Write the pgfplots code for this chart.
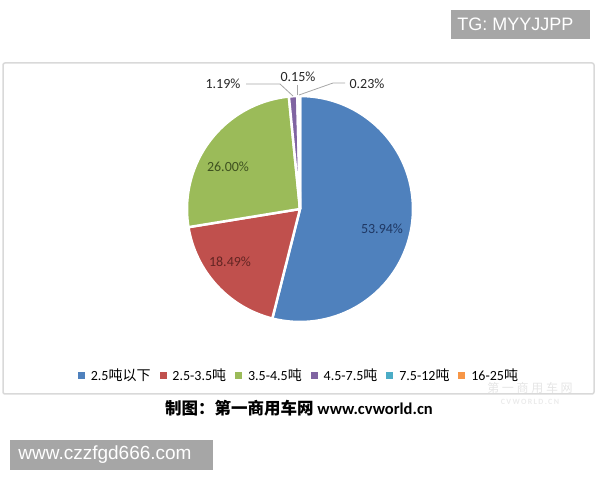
\documentclass[border=0pt]{standalone}
\usepackage{pgfplots}
\pgfplotsset{compat=1.18}
\usepackage{pgfplotstable}
\usepackage{fontspec}
\setmainfont{Carlito}
\newfontfamily\cjk{Noto Sans CJK SC}
\newfontfamily\arial{Liberation Sans}
\definecolor{pBlue}{HTML}{4F81BD}
\definecolor{pRed}{HTML}{C0504D}
\definecolor{pGreen}{HTML}{9BBB59}
\definecolor{pPurple}{HTML}{8064A2}
\definecolor{pCyan}{HTML}{4BACC6}
\definecolor{pOrange}{HTML}{F79646}
\definecolor{tBlue}{HTML}{1F3864}
\definecolor{tRed}{HTML}{632523}
\definecolor{tGreen}{HTML}{3F5220}
\definecolor{lead}{HTML}{A6A6A6}
\definecolor{wm}{HTML}{A6A6A6}
\pgfplotstableread{
share
53.94
18.49
26.00
1.19
0.15
0.23
}\piedata
\pgfplotstablegetelem{0}{share}\of\piedata\let\vA\pgfplotsretval
\pgfplotstablegetelem{1}{share}\of\piedata\let\vB\pgfplotsretval
\pgfplotstablegetelem{2}{share}\of\piedata\let\vC\pgfplotsretval
\pgfplotstablegetelem{3}{share}\of\piedata\let\vD\pgfplotsretval
\pgfplotstablegetelem{4}{share}\of\piedata\let\vE\pgfplotsretval
\pgfplotstablegetelem{5}{share}\of\piedata\let\vF\pgfplotsretval
\pgfmathsetmacro\eA{3.6*\vA}
\pgfmathsetmacro\eB{\eA+3.6*\vB}
\pgfmathsetmacro\eC{\eB+3.6*\vC}
\pgfmathsetmacro\eD{\eC+3.6*\vD}
\pgfmathsetmacro\eE{\eD+3.6*\vE}
\pgfmathsetmacro\eF{\eE+3.6*\vF}
\newcommand\pieslice[3]{\fill[#1, draw=white, line width=2.5bp, line join=round] (axis cs:300,271) -- ++({90-#2}:113bp) arc[start angle={90-#2}, end angle={90-#3}, radius=113bp] -- cycle;}
\pgfplotsset{sqlegend/.style={legend image code/.code={\fill[##1] (0bp,-3bp) rectangle (6bp,3bp);}}}
\begin{document}
\begin{tikzpicture}
\path[use as bounding box] (0,0) rectangle (600bp,480bp);
\begin{axis}[x=1bp, y=1bp, xmin=0, xmax=600, ymin=0, ymax=480,
  hide axis, clip=false, anchor=origin, at={(0,0)},
  sqlegend,
  legend columns=-1,
  legend style={draw=none, fill=none, at={(axis cs:299,105)}, anchor=center,
    font=\fontsize{14bp}{16bp}\selectfont, inner sep=0pt,
    /tikz/every even column/.append style={column sep=7bp},
    /tikz/every odd column/.append style={column sep=4.5bp}},
  ]
\addlegendimage{pBlue}\addlegendentry{2.5{\cjk 吨以下}}
\addlegendimage{pRed}\addlegendentry{2.5-3.5{\cjk 吨}}
\addlegendimage{pGreen}\addlegendentry{3.5-4.5{\cjk 吨}}
\addlegendimage{pPurple}\addlegendentry{4.5-7.5{\cjk 吨}}
\addlegendimage{pCyan}\addlegendentry{7.5-12{\cjk 吨}}
\addlegendimage{pOrange}\addlegendentry{16-25{\cjk 吨}}
% chart frame
\draw[color=black!15, line width=1.5bp, rounded corners=2bp] (axis cs:3,417) rectangle (axis cs:594,86);
% pie
\pieslice{pBlue}{0}{\eA}
\pieslice{pRed}{\eA}{\eB}
\pieslice{pGreen}{\eB}{\eC}
\pieslice{pPurple}{\eC}{\eD}
\pieslice{pCyan}{\eD}{\eE}
\pieslice{pOrange}{\eE}{\eF}
% leader lines
\draw[lead, line width=0.8bp] (axis cs:246,396) -- (axis cs:280,396) -- (axis cs:293,384);
\draw[lead, line width=0.8bp] (axis cs:345,397) -- (axis cs:333,397) -- (axis cs:299,385);
\draw[lead, line width=0.8bp] (axis cs:297,395) -- (axis cs:297,385);
% labels
\begin{scope}[every node/.style={font=\fontsize{14bp}{16bp}\selectfont, inner sep=0pt}]
\node[text=tBlue] at (axis cs:382,251) {53.94\%};
\node[text=tRed] at (axis cs:230,218) {18.49\%};
\node[text=tGreen] at (axis cs:228,313) {26.00\%};
\node[text=black!85] at (axis cs:223,396) {1.19\%};
\node[text=black!85] at (axis cs:298,403) {0.15\%};
\node[text=black!85] at (axis cs:367,396) {0.23\%};
\end{scope}
% caption
\node[font=\fontsize{16.5bp}{18bp}\selectfont\bfseries, inner sep=0pt] at (axis cs:299,72) {{\cjk 制图：第一商用车网} www.cvworld.cn};
% faint logo watermark
\node[text=black!10, font=\fontsize{12bp}{13bp}\selectfont\cjk, inner sep=0pt] at (axis cs:530,92) {第\ 一\ 商\ 用\ 车\ 网};
\node[text=black!8, font=\fontsize{8bp}{9bp}\selectfont\bfseries, inner sep=0pt] at (axis cs:530,78) {C\,V\,W\,O\,R\,L\,D\,.\,C\,N};
% watermark boxes
\fill[wm] (axis cs:451,470) rectangle (axis cs:590,441);
\node[text=white, font=\fontsize{18bp}{20bp}\selectfont\arial, inner sep=0pt] at (axis cs:515.5,455.5) {TG: MYYJJPP};
\fill[wm] (axis cs:10,40) rectangle (axis cs:213,10);
\node[text=white, font=\fontsize{19bp}{21bp}\selectfont\arial, inner sep=0pt] at (axis cs:105,25) {www.czzfgd666.com};
\end{axis}
\end{tikzpicture}
\end{document}
